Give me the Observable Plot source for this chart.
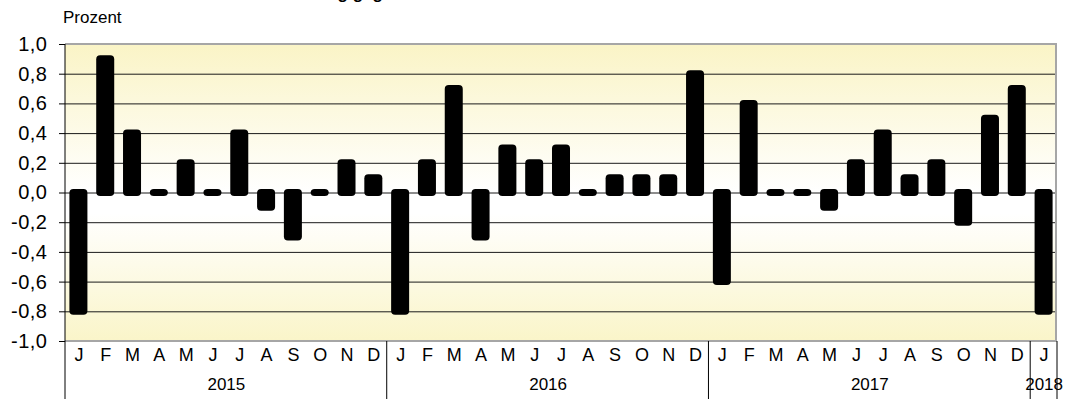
<!DOCTYPE html>
<html>
<head>
<meta charset="utf-8">
<script src="https://cdn.jsdelivr.net/npm/d3@7"></script>
<script src="https://cdn.jsdelivr.net/npm/@observablehq/plot@0.6"></script>
<style>
  html, body { margin: 0; padding: 0; background: #fff; overflow: hidden; }
  #wrap { position: relative; width: 1065px; height: 401px; }
  #title { position: absolute; left: 244px; top: -16px; font: bold 17px "Liberation Sans", Arial, sans-serif; color: #000; white-space: nowrap; }
  #unit { position: absolute; left: 63px; top: 8px; font: 17px "Liberation Sans", Arial, sans-serif; color: #000; }
  #chart { position: absolute; left: 0; top: 0; }
  g[aria-label="y-axis tick label"] { font-size: 20px; }
  g[aria-label="y-axis tick label"] text { letter-spacing: 0.5px; }
</style>
</head>
<body>
<div id="wrap">
  <div id="chart"></div>
  <div id="title">Veränderung gegenüber dem Vormonat</div>
  <div id="unit">Prozent</div>
</div>
<script>
const monthLetters = ["J","F","M","A","M","J","J","A","S","O","N","D"];
const years = ["2015","2016","2017","2018"];
const values2015 = [-0.8, 0.9, 0.4, 0.0, 0.2, 0.0, 0.4, -0.1, -0.3, 0.0, 0.2, 0.1];
const values2016 = [-0.8, 0.2, 0.7, -0.3, 0.3, 0.2, 0.3, 0.0, 0.1, 0.1, 0.1, 0.8];
const values2017 = [-0.6, 0.6, 0.0, 0.0, -0.1, 0.2, 0.4, 0.1, 0.2, -0.2, 0.5, 0.7];
const values2018 = [-0.8];
const yTicks = [-1.0, -0.8, -0.6, -0.4, -0.2, 0.0, 0.2, 0.4, 0.6, 0.8, 1.0];

const allValues = [values2015, values2016, values2017, values2018];
const data = [];
allValues.forEach((arr, yi) => arr.forEach((v, mi) => data.push({i: yi * 12 + mi, v, m: monthLetters[mi], year: years[yi]})));
const n = data.length;
const yearInfo = years.map((y, k) => {
  const count = allValues[k].length;
  return {year: y, start: k * 12, end: k * 12 + count};
});

const fmt = d => (Math.round(d * 10) / 10).toFixed(1).replace(".", ",").replace("-0,0", "0,0");

const background = (index, scales, values, dims) => {
  const {width, height, marginLeft, marginRight, marginTop, marginBottom} = dims;
  const g = d3.create("svg:g");
  const lg = g.append("defs").append("linearGradient")
    .attr("id", "bgGrad").attr("x1", 0).attr("y1", 0).attr("x2", 0).attr("y2", 1);
  lg.append("stop").attr("offset", "0%").attr("stop-color", "#faf4c6");
  lg.append("stop").attr("offset", "50%").attr("stop-color", "#ffffff");
  lg.append("stop").attr("offset", "57%").attr("stop-color", "#ffffff");
  lg.append("stop").attr("offset", "100%").attr("stop-color", "#faf5c9");
  g.append("rect")
    .attr("x", marginLeft).attr("y", marginTop)
    .attr("width", width - marginLeft - marginRight)
    .attr("height", height - marginTop - marginBottom)
    .attr("fill", "url(#bgGrad)");
  return g.node();
};

const frameLines = (index, {x, y}, values, dims) => {
  const {height} = dims;
  const g = d3.create("svg:g");
  const left = x(0), right = x(n);
  const top = y(1), bottom = y(-1);
  g.append("line").attr("x1", left).attr("x2", right).attr("y1", top).attr("y2", top)
    .attr("stroke", "#a6a6a6").attr("stroke-width", 2);
  g.append("line").attr("x1", left).attr("x2", right).attr("y1", bottom).attr("y2", bottom)
    .attr("stroke", "#a6a6a6").attr("stroke-width", 2);
  g.append("line").attr("x1", right - 1).attr("x2", right - 1).attr("y1", top - 1).attr("y2", bottom)
    .attr("stroke", "#a6a6a6").attr("stroke-width", 2);
  g.append("line").attr("x1", left).attr("x2", left).attr("y1", top).attr("y2", height - 2)
    .attr("stroke", "#000").attr("stroke-width", 1);
  yearInfo.map(d => d.end).forEach(s => {
    const xx = s === n ? right : x(s);
    g.append("line").attr("x1", xx).attr("x2", xx).attr("y1", bottom).attr("y2", height - 2)
      .attr("stroke", "#000").attr("stroke-width", 1);
  });
  return g.node();
};

const plot = Plot.plot({
  width: 1065,
  height: 401,
  marginLeft: 65,
  marginRight: 8,
  marginTop: 44,
  marginBottom: 60,
  style: {fontFamily: "'Liberation Sans', Arial, sans-serif", fontSize: "17px", color: "#000", background: "transparent", overflow: "visible"},
  x: {type: "linear", domain: [0, n], axis: null},
  y: {domain: [-1, 1], axis: null},
  marks: [
    background,
    Plot.ruleY(yTicks.filter(t => Math.abs(t) < 0.99), {stroke: "#1a1a1a", strokeWidth: 1}),
    Plot.rect(data, {x1: "i", x2: d => d.i + 1, y1: 0, y2: "v", fill: "#000",
      insetLeft: 4.4, insetRight: 4.4, insetTop: -3.5, insetBottom: -3.5, rx: 4}),
    frameLines,
    Plot.axisY({ticks: yTicks, tickFormat: fmt, tickSize: 6, tickPadding: 12, anchor: "left", label: null}),
    Plot.text(data, {x: d => d.i + 0.5, text: "m", frameAnchor: "bottom", dy: 19, fontSize: 18}),
    Plot.text(yearInfo, {x: d => (d.start + d.end) / 2, text: "year", frameAnchor: "bottom", dy: 48, fontSize: 17})
  ]
});
document.getElementById("chart").appendChild(plot);
</script>
</body>
</html>
